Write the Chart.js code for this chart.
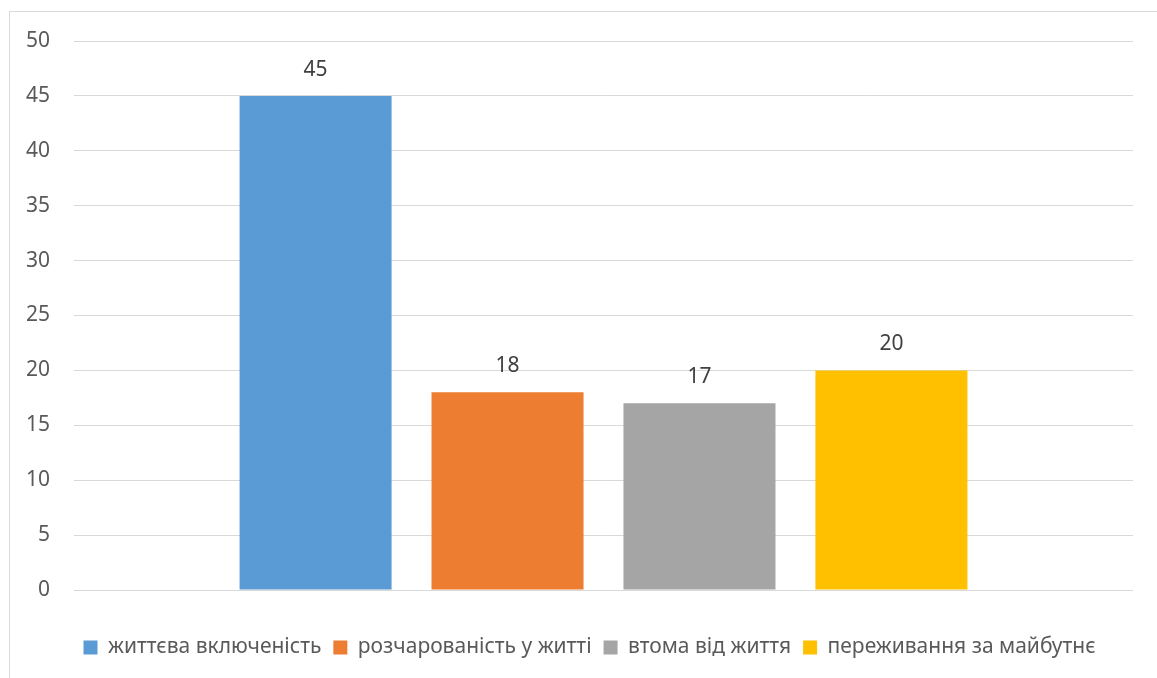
<!DOCTYPE html>
<html>
<head>
<meta charset="utf-8">
<script src="https://cdn.jsdelivr.net/npm/chart.js@4/dist/chart.umd.min.js"></script>
<style>
  body { margin: 0; background: #fff; overflow: hidden; }
  #frame { position: absolute; left: 9px; top: 11px; width: 1200px; height: 700px; border: 1px solid #d9d9d9; }
  #wrap { position: absolute; left: 0; top: 0; width: 1157px; height: 678px; }
</style>
</head>
<body>
<div id="frame"></div>
<div id="wrap"><canvas id="barChart"></canvas></div>
<script>
var categories = ['']
var seriesNames = ['життєва включеність', 'розчарованість у житті', 'втома від життя', 'переживання за майбутнє']
var seriesValues = [45, 18, 17, 20]
var seriesColors = ['#5b9bd5', '#ed7d31', '#a5a5a5', '#ffc000']
var yMin = 0
var yMax = 50
var yStep = 5

var FONT = '"Noto Sans", sans-serif'

// draws the value above every bar
var valueLabels = {
    id: 'valueLabels',
    afterDatasetsDraw: function (chart) {
        var ctx = chart.ctx
        ctx.save()
        ctx.font = '21px ' + FONT
        ctx.fillStyle = '#404040'
        ctx.textAlign = 'center'
        ctx.textBaseline = 'middle'
        chart.data.datasets.forEach(function (ds, i) {
            chart.getDatasetMeta(i).data.forEach(function (bar, j) {
                ctx.fillText(ds.data[j], bar.x, bar.y - 26)
            })
        })
        ctx.restore()
    }
}

// legend sits a little right of centre, like the original
var legendShift = {
    id: 'legendShift',
    afterLayout: function (chart) {
        chart.legend.left = 46
    }
}

var barChartData = {
    labels: categories,
    datasets: seriesNames.map(function (name, i) {
        return {
            label: name,
            data: [seriesValues[i]],
            backgroundColor: seriesColors[i],
            categoryPercentage: 0.725,
            barPercentage: 0.792
        }
    })
}

var barChartOptions = {
    responsive: true,
    maintainAspectRatio: false,
    animation: false,
    layout: { padding: { top: 41, right: 24, bottom: 10, left: 0 } },
    plugins: {
        legend: {
            position: 'bottom',
            labels: {
                boxWidth: 14,
                boxHeight: 14,
                padding: 12,
                color: '#595959',
                font: { family: FONT, size: 21 }
            }
        },
        tooltip: { enabled: false }
    },
    scales: {
        x: {
            grid: { display: false },
            border: { display: false },
            ticks: { display: false },
            afterFit: function (scale) { scale.height = 35 }
        },
        y: {
            min: yMin,
            max: yMax,
            ticks: {
                stepSize: yStep,
                color: '#595959',
                padding: 24,
                font: { family: FONT, size: 21 }
            },
            grid: { color: '#d9d9d9', drawTicks: false },
            border: { display: false },
            afterFit: function (scale) { scale.width = 74 }
        }
    }
}

new Chart(document.getElementById('barChart').getContext('2d'), {
    type: 'bar',
    data: barChartData,
    options: barChartOptions,
    plugins: [valueLabels, legendShift]
})
</script>
</body>
</html>
